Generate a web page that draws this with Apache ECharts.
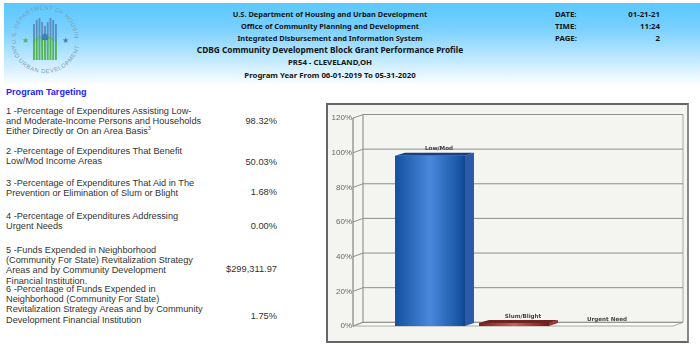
<!DOCTYPE html>
<html>
<head>
<meta charset="utf-8">
<title>CDBG Performance Profile</title>
<script src="https://cdn.jsdelivr.net/npm/echarts@6/dist/echarts.min.js"></script>
<style>
html, body { margin: 0; padding: 0; background: #fff; overflow: hidden; }
#page { position: relative; width: 700px; height: 354px; overflow: hidden; }
#band { position: absolute; left: 4px; top: 3px; width: 696px; height: 83px; background: linear-gradient(to bottom, #5ac8ff 0%, #78d0ff 30%, #b5e5ff 62%, #ffffff 100%); }
.h { position: absolute; font: bold 7.4px "Noto Sans", sans-serif; color: #141414; line-height: 12px; white-space: nowrap; }
.m { font-size: 7.8px; }
.c { left: 130px; width: 400px; text-align: center; }
.r { width: 60px; left: 600px; text-align: right; }
.t { position: absolute; left: 6px; font: 9.2px/10.2px "Liberation Sans", Arial, sans-serif; color: #333; white-space: nowrap; }
.v { position: absolute; left: 177px; width: 100px; text-align: right; font: 9.3px/12px "Liberation Sans", Arial, sans-serif; color: #333; white-space: nowrap; }
sup { font-size: 5px; line-height: 0; }
#pt { position: absolute; left: 6px; top: 86px; font: bold 9.1px/13px "Liberation Sans", Arial, sans-serif; color: #2222ff; }
#frame { position: absolute; left: 326px; top: 103px; width: 359px; height: 236px; border: 2px solid #666; border-right-color: #888; background: #f4f4f0; }
#chart { position: absolute; left: 325px; top: 103px; width: 365px; height: 240px; }
#logo { position: absolute; left: 0; top: 0; }
</style>
</head>
<body>
<div id="page">
  <div id="band"></div>
  <svg id="logo" width="90" height="80"></svg>

  <div class="h c" style="top:8px">U.S. Department of Housing and Urban Development</div>
  <div class="h c" style="top:20px">Office of Community Planning and Development</div>
  <div class="h c" style="top:32px">Integrated Disbursement and Information System</div>
  <div class="h c" style="top:44px;font-size:8.3px">CDBG Community Development Block Grant Performance Profile</div>
  <div class="h c m" style="top:56px">PR54 - CLEVELAND,OH</div>
  <div class="h c m" style="top:69px">Program Year From 06-01-2019 To 05-31-2020</div>
  <div class="h m" style="left:555px;top:8px">DATE:</div>
  <div class="h m" style="left:555px;top:20px">TIME:</div>
  <div class="h m" style="left:555px;top:32px">PAGE:</div>
  <div class="h r m" style="top:8px">01-21-21</div>
  <div class="h r m" style="top:20px">11:24</div>
  <div class="h r m" style="top:32px">2</div>

  <div id="pt">Program Targeting</div>

  <div class="t" style="top:106px">1 -Percentage of Expenditures Assisting Low-<br>and Moderate-Income Persons and Households<br>Either Directly or On an Area Basis<sup>3</sup></div>
  <div class="v" style="top:115px">98.32%</div>
  <div class="t" style="top:146px">2 -Percentage of Expenditures That Benefit<br>Low/Mod Income Areas</div>
  <div class="v" style="top:156px">50.03%</div>
  <div class="t" style="top:178px">3 -Percentage of Expenditures That Aid in The<br>Prevention or Elimination of Slum or Blight</div>
  <div class="v" style="top:186px">1.68%</div>
  <div class="t" style="top:211px">4 -Percentage of Expenditures Addressing<br>Urgent Needs</div>
  <div class="v" style="top:220px">0.00%</div>
  <div class="t" style="top:245px">5 -Funds Expended in Neighborhood<br>(Community For State) Revitalization Strategy<br>Areas and by Community Development<br>Financial Institution.</div>
  <div class="v" style="top:263px">$299,311.97</div>
  <div class="t" style="top:284px">6 -Percentage of Funds Expended in<br>Neighborhood (Community For State)<br>Revitalization Strategy Areas and by Community<br>Development Financial Institution</div>
  <div class="v" style="top:310px">1.75%</div>

  <div id="frame"></div>
  <div id="chart"></div>
</div>

<script>
var categories = ['Low/Mod', 'Slum/Blight', 'Urgent Need'];
var targetingValues = [98.32, 1.68, 0];
var percentMax = 120;
var percentStep = 20;

// 3d look of the original, pixels
var depthX = 10;
var depthY = -3.7;
var axisGap = 35;
var floorExtra = 33;
var barRatio = 0.833;

var barColors = [
    {edge: '#14509f', mid: '#4a88dc', dark: '#123f85', side: '#2a5ba8', top: '#173f80'},
    {edge: '#7c1f1f', mid: '#d05a5a', dark: '#6a1a1a', side: '#9c3434', top: '#6e2222'},
    {edge: '#7c7c20', mid: '#c8c860', dark: '#6a6a1a', side: '#9c9c34', top: '#6e6e22'}
];

function drawLogo() {
    var svg = '';
    svg += '<defs><path id="arcTop" d="M 16 44 A 29.5 29.5 0 1 1 74.5 41"/>';
    svg += '<path id="arcBottom" d="M 11 46 A 35 35 0 0 0 79 47"/></defs>';
    svg += '<text font-family="Liberation Sans" font-size="5.8" fill="#7d9db5" letter-spacing="0.45"><textPath href="#arcTop">U.S. DEPARTMENT OF HOUSING</textPath></text>';
    svg += '<text font-family="Liberation Sans" font-size="5.8" fill="#7d9db5" letter-spacing="0.7"><textPath href="#arcBottom">AND URBAN DEVELOPMENT</textPath></text>';
    var tops = [24, 20, 18, 22, 26, 22, 18, 20, 24];
    var greens = [40, 38, 36, 38, 38, 36, 37, 38, 41];
    for (var i = 0; i < tops.length; i++) {
        var x = 33 + i * 2.75;
        svg += '<rect x="' + x + '" y="' + tops[i] + '" width="1.9" height="' + (greens[i] - tops[i] + 3) + '" fill="#5b8fc2"/>';
        svg += '<rect x="' + x + '" y="' + greens[i] + '" width="1.9" height="' + (60 - greens[i]) + '" fill="#54b356"/>';
    }
    svg += '<path d="M42 36 a3.5 5 0 0 1 6 0 v4 h-6 z" fill="#3f7fbd"/>';
    svg += '<text x="25" y="42.5" text-anchor="middle" font-size="8" fill="#54b356">★</text>';
    svg += '<text x="65" y="42.5" text-anchor="middle" font-size="8" fill="#4a7fb5">★</text>';
    document.getElementById('logo').innerHTML = svg;
}

function renderWalls(params, api) {
    var grid = params.coordSys;
    var xL = grid.x - axisGap;
    var xR = grid.x + grid.width + floorExtra;
    var y0 = api.coord([0, 0])[1];
    var yTop = api.coord([0, percentMax])[1];
    var lineStyle = {stroke: '#8e8e8a', lineWidth: 1, fill: null};
    var children = [];

    // floor
    children.push({
        type: 'polygon',
        shape: {points: [[xL, y0], [xL + depthX, y0 + depthY], [xR + depthX, y0 + depthY], [xR, y0]]},
        style: {fill: '#fbfbf8', stroke: '#a8a8a4', lineWidth: 1}
    });
    // back wall edges
    children.push({type: 'line', shape: {x1: xL + depthX, y1: y0 + depthY, x2: xL + depthX, y2: yTop + depthY}, style: {stroke: '#a8a8a4', lineWidth: 1.5}});
    children.push({type: 'line', shape: {x1: xR + depthX, y1: y0 + depthY, x2: xR + depthX, y2: yTop + depthY}, style: {stroke: '#a8a8a4', lineWidth: 1}});
    // grid lines
    for (var t = 0; t <= percentMax; t += percentStep) {
        var y = api.coord([0, t])[1];
        children.push({type: 'polyline', shape: {points: [[xL, y], [xL + depthX, y + depthY], [xR + depthX, y + depthY]]}, style: lineStyle});
    }
    return {type: 'group', children: children};
}

function renderBar(params, api) {
    var top = api.coord([api.value(0), api.value(1)]);
    var base = api.coord([api.value(0), 0]);
    var w = api.size([1, 0])[0] * barRatio;
    var x1 = top[0] - w / 2;
    var x2 = top[0] + w / 2;
    var c = barColors[params.dataIndex];
    var children = [];

    if (api.value(1) > 0) {
        children.push({
            type: 'polygon',
            shape: {points: [[x2, top[1]], [x2 + depthX - 1, top[1] + depthY + 0.7], [x2 + depthX - 1, base[1] + depthY + 0.7], [x2, base[1]]]},
            style: {fill: c.side}
        });
        children.push({
            type: 'polygon',
            shape: {points: [[x1, top[1]], [x1 + depthX, top[1] + depthY + 0.7], [x2 + depthX - 1, top[1] + depthY + 0.7], [x2, top[1]]]},
            style: {fill: c.top}
        });
        children.push({
            type: 'rect',
            shape: {x: x1, y: top[1], width: w, height: base[1] - top[1]},
            style: {
                fill: new echarts.graphic.LinearGradient(0, 0, 1, 0, [
                    {offset: 0, color: c.edge},
                    {offset: 0.5, color: c.mid},
                    {offset: 0.96, color: c.edge},
                    {offset: 1, color: c.dark}
                ])
            }
        });
    }
    children.push({
        type: 'text',
        style: {
            x: top[0] + 9,
            y: top[1] + depthY - 3.2,
            text: categories[params.dataIndex],
            align: 'center',
            verticalAlign: 'middle',
            font: 'bold 5.6px "DejaVu Sans"',
            fill: '#444'
        }
    });
    return {type: 'group', children: children};
}

var targetingChart = echarts.init(document.getElementById('chart'));
var barData = targetingValues.map(function (v, i) { return [i, v]; });
var option = {
    animation: false,
    grid: {left: 63, top: 15.2, width: 252, height: 207.8},
    xAxis: {type: 'category', data: categories, show: false},
    yAxis: {
        type: 'value',
        min: 0,
        max: percentMax,
        interval: percentStep,
        offset: axisGap,
        axisLine: {show: true, lineStyle: {color: '#9a9a96', width: 1.5}},
        axisTick: {show: false},
        splitLine: {show: false},
        axisLabel: {formatter: '{value}%', margin: 1, fontSize: 8, fontFamily: 'Liberation Sans', color: '#666'}
    },
    series: [
        {type: 'custom', renderItem: renderWalls, data: [[0, 0]], encode: {x: 0, y: 1}, z: 1, silent: true},
        {type: 'custom', renderItem: renderBar, data: barData, encode: {x: 0, y: 1}, z: 2, silent: true}
    ]
};
drawLogo();
targetingChart.setOption(option);
</script>
</body>
</html>
